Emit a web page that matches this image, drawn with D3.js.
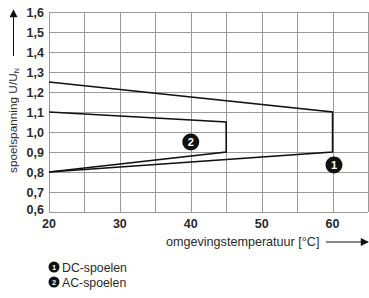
<!DOCTYPE html>
<html>
<head>
<meta charset="utf-8">
<script src="https://cdn.jsdelivr.net/npm/d3@7"></script>
<style>
  body { margin: 0; background: #fff; }
  svg text { font-family: "Liberation Sans", Arial, sans-serif; }
</style>
</head>
<body>
<div id="chart"></div>
<script>
const xTicks = [20, 30, 40, 50, 60];
const yTicks = [0.6, 0.7, 0.8, 0.9, 1.0, 1.1, 1.2, 1.3, 1.4, 1.5, 1.6];
const dcTemp = [20, 60, 60, 20];
const dcVolt = [1.25, 1.1, 0.9, 0.8];
const acTemp = [20, 45, 45, 20];
const acVolt = [1.1, 1.05, 0.9, 0.8];
const markers = [
  { label: "1", temp: 60.2, volt: 0.835 },
  { label: "2", temp: 40, volt: 0.95 }
];
const legend = [
  { label: "1", text: "DC-spoelen" },
  { label: "2", text: "AC-spoelen" }
];

const W = 369, H = 298;
const margin = { top: 12, right: 1, bottom: 86, left: 49 };

const svg = d3.select("#chart").append("svg")
  .attr("width", W).attr("height", H);

const x = d3.scaleLinear().domain([20, 65]).range([margin.left, W - margin.right]);
const y = d3.scaleLinear().domain([0.6, 1.6]).range([H - margin.bottom, margin.top]);

// grid
const grid = svg.append("g").attr("stroke", "#9a9a9a").attr("stroke-width", 1);
grid.selectAll(".v").data(d3.range(20, 65.1, 5)).enter().append("line")
  .attr("x1", d => Math.round(x(d)) + 0.5).attr("x2", d => Math.round(x(d)) + 0.5)
  .attr("y1", y(0.6)).attr("y2", y(1.6));
grid.selectAll(".h").data(yTicks).enter().append("line")
  .attr("x1", x(20)).attr("x2", x(65))
  .attr("y1", d => Math.round(y(d)) + 0.5).attr("y2", d => Math.round(y(d)) + 0.5);

// tick labels
const fmt = d => d3.format(".1f")(d).replace(".", ",");
svg.append("g").selectAll("text").data(yTicks).enter().append("text")
  .attr("x", margin.left - 5)
  .attr("y", d => y(d) + (d === 0.6 ? 2 : 5))
  .attr("text-anchor", "end")
  .attr("font-size", 12.5).attr("font-weight", "bold").attr("fill", "#2a2a2a")
  .text(fmt);
svg.append("g").selectAll("text").data(xTicks).enter().append("text")
  .attr("x", d => x(d))
  .attr("y", y(0.6) + 16)
  .attr("text-anchor", "middle")
  .attr("font-size", 12.5).attr("font-weight", "bold").attr("fill", "#2a2a2a")
  .text(d => d);

// curves
const line = d3.line().x(d => x(d[0])).y(d => y(d[1]));
[[dcTemp, dcVolt], [acTemp, acVolt]].forEach(([t, v]) => {
  svg.append("path")
    .datum(t.map((d, i) => [d, v[i]]))
    .attr("d", line)
    .attr("fill", "none").attr("stroke", "#111").attr("stroke-width", 1.6);
});

// numbered markers
const badge = (g, cx, cy, r, label, fs) => {
  g.append("circle").attr("cx", cx).attr("cy", cy).attr("r", r).attr("fill", "#111");
  g.append("text").attr("x", cx).attr("y", cy + fs * 0.36)
    .attr("text-anchor", "middle").attr("font-size", fs).attr("font-weight", "bold")
    .attr("fill", "#fff").text(label);
};
markers.forEach(m => badge(svg, x(m.temp), y(m.volt), 8.5, m.label, 11));

// axis titles with arrows
svg.append("defs").append("marker")
  .attr("id", "arrow").attr("viewBox", "0 0 10 10")
  .attr("refX", 9).attr("refY", 5)
  .attr("markerWidth", 10).attr("markerHeight", 8)
  .attr("markerUnits", "userSpaceOnUse")
  .attr("orient", "auto")
  .append("path").attr("d", "M0,0L10,5L0,10Z").attr("fill", "#111");

svg.append("text")
  .attr("x", 166).attr("y", 246)
  .attr("font-size", 12.6).attr("fill", "#2a2a2a")
  .text("omgevingstemperatuur [°C]");
svg.append("line")
  .attr("x1", 326).attr("x2", 368).attr("y1", 242).attr("y2", 242)
  .attr("stroke", "#111").attr("stroke-width", 1)
  .attr("marker-end", "url(#arrow)");

const yt = svg.append("text")
  .attr("transform", "translate(17,173) rotate(-90)")
  .attr("font-size", 11.8).attr("fill", "#2a2a2a");
yt.append("tspan").text("spoelspanning U/U");
yt.append("tspan").attr("font-size", 7).attr("dy", 2).text("N");
svg.append("line")
  .attr("x1", 13.5).attr("x2", 13.5).attr("y1", 56).attr("y2", 10)
  .attr("stroke", "#111").attr("stroke-width", 1)
  .attr("marker-end", "url(#arrow)");

// legend
legend.forEach((l, i) => {
  const cy = 267 + i * 15;
  badge(svg, 54, cy, 5.5, l.label, 7.5);
  svg.append("text").attr("x", 62).attr("y", cy + 4.5)
    .attr("font-size", 12.3).attr("fill", "#2a2a2a").text(l.text);
});
</script>
</body>
</html>
